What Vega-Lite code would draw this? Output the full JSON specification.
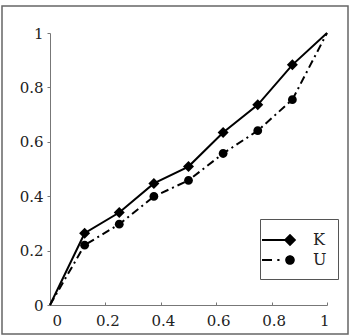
{
  "$schema": "https://vega.github.io/schema/vega-lite/v6.json",
  "width": 346,
  "height": 328,
  "autosize": {"type": "none"},
  "padding": {"left": 2, "top": 6, "right": 4, "bottom": 2},
  "background": "white",
  "config": {
    "view": {"stroke": "#666666", "strokeWidth": 1.5},
    "axis": {
      "labelFont": "DejaVu Serif",
      "labelFontSize": 15,
      "labelColor": "#222222",
      "domainColor": "#777777",
      "tickColor": "#777777",
      "grid": false,
      "title": null
    },
    "legend": {"labelFont": "DejaVu Serif"}
  },
  "data": {
    "values": [
      {"x": 0, "y": 0, "s": "K"},
      {"x": 0.125, "y": 0.264, "s": "K"},
      {"x": 0.25, "y": 0.34, "s": "K"},
      {"x": 0.375, "y": 0.447, "s": "K"},
      {"x": 0.5, "y": 0.509, "s": "K"},
      {"x": 0.625, "y": 0.634, "s": "K"},
      {"x": 0.75, "y": 0.736, "s": "K"},
      {"x": 0.875, "y": 0.883, "s": "K"},
      {"x": 1, "y": 1, "s": "K"},
      {"x": 0, "y": 0, "s": "U"},
      {"x": 0.125, "y": 0.22, "s": "U"},
      {"x": 0.25, "y": 0.297, "s": "U"},
      {"x": 0.375, "y": 0.399, "s": "U"},
      {"x": 0.5, "y": 0.458, "s": "U"},
      {"x": 0.625, "y": 0.557, "s": "U"},
      {"x": 0.75, "y": 0.641, "s": "U"},
      {"x": 0.875, "y": 0.755, "s": "U"},
      {"x": 1, "y": 1, "s": "U"}
    ]
  },
  "encoding": {
    "x": {
      "field": "x", "type": "quantitative",
      "scale": {"domain": [0, 1], "range": [48, 325], "nice": false},
      "axis": {"values": [0, 0.2, 0.4, 0.6, 0.8, 1], "format": "~g", "offset": -29, "tickSize": -3, "labelPadding": 11, "labelOffset": 2, "labelFont": "DejaVu Serif", "labelFontSize": 15}
    },
    "y": {
      "field": "y", "type": "quantitative",
      "scale": {"domain": [0, 1], "range": [299, 27], "nice": false},
      "axis": {"values": [0, 0.2, 0.4, 0.6, 0.8, 1], "format": "~g", "offset": -48, "tickSize": 3, "labelPadding": 4, "labelFont": "DejaVu Serif", "labelFontSize": 15}
    }
  },
  "resolve": {"scale": {"shape": "independent"}, "legend": {"shape": "independent"}},
  "layer": [
    {
      "transform": [{"filter": "datum.s === 'K'"}],
      "mark": {"type": "line", "color": "black", "strokeWidth": 2},
      "encoding": {}
    },
    {
      "transform": [{"filter": "datum.s === 'U'"}],
      "mark": {"type": "line", "color": "black", "strokeWidth": 2, "strokeDash": [8, 4, 2, 4]},
      "encoding": {}
    },
    {
      "transform": [{"filter": "datum.x > 0 && datum.x < 1"}],
      "mark": {"type": "point", "filled": true, "color": "black", "opacity": 1, "size": 121},
      "encoding": {
        "shape": {
          "field": "s", "type": "nominal",
          "scale": {"domain": ["K", "U"], "range": ["diamond", "M-0.8,0A0.8,0.8,0,1,1,0.8,0A0.8,0.8,0,1,1,-0.8,0Z"]},
          "legend": null
        }
      }
    },
    {
      "mark": {"type": "point", "filled": true, "color": "black", "opacity": 0, "size": 400},
      "encoding": {
        "shape": {
          "field": "s", "type": "nominal",
          "scale": {"domain": ["K", "U"], "range": ["M-2.8,-0.1L0,-0.1L0,0.1L-2.8,0.1ZM-0.62,0L0,-0.62L0.62,0L0,0.62Z", "M-2.8,-0.1L-1.8,-0.1L-1.8,0.1L-2.8,0.1ZM-1.27,-0.1L-1.05,-0.1L-1.05,0.1L-1.27,0.1ZM-0.48,0A0.48,0.48,0,1,1,0.48,0A0.48,0.48,0,1,1,-0.48,0Z"]},
          "legend": {
            "orient": "none",
            "legendX": 258,
            "legendY": 213,
            "title": null,
            "padding": 11,
            "strokeColor": "#555555",
            "fillColor": "white",
            "rowPadding": 2,
            "symbolSize": 400,
            "symbolStrokeWidth": 0,
            "symbolOffset": 9,
            "labelOffset": 13,
            "labelFont": "DejaVu Serif",
            "labelFontSize": 16,
            "labelColor": "#222222",
            "symbolFillColor": "black",
            "symbolOpacity": 1
          }
        }
      }
    }
  ]
}
